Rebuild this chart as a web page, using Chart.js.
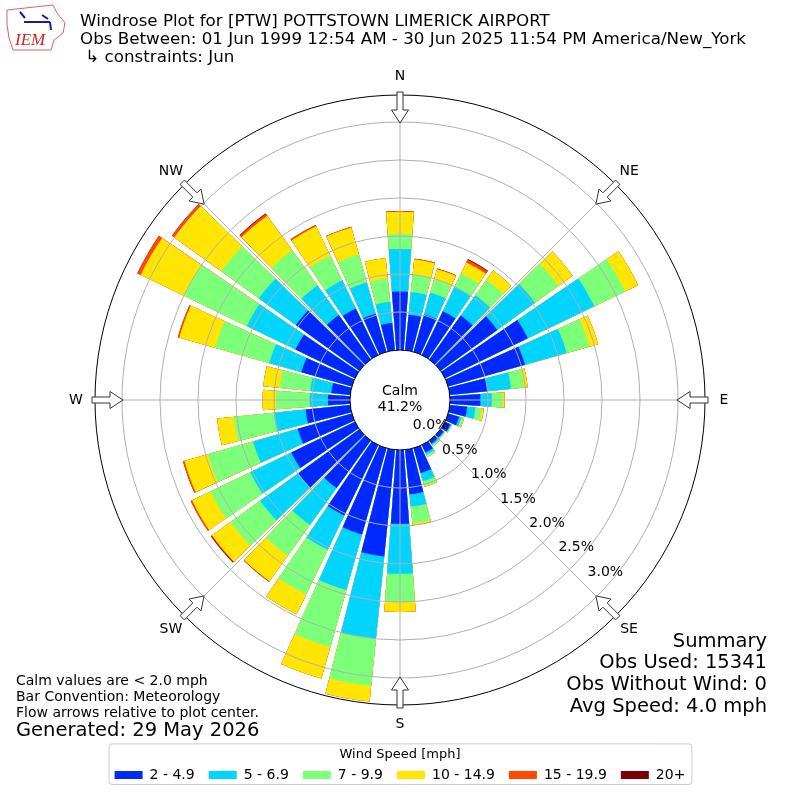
<!DOCTYPE html>
<html>
<head>
<meta charset="utf-8">
<script src="https://cdn.jsdelivr.net/npm/chart.js@4/dist/chart.umd.min.js"></script>
<style>
  html, body { margin: 0; padding: 0; background: #fff; }
</style>
</head>
<body>
<canvas id="rosa" width="800" height="800"></canvas>
<script>
// direcciones de donde sopla el viento (grados desde el norte)
const direcciones = [0, 10, 20, 30, 40, 50, 60, 70, 80, 90, 100, 110, 120, 130, 140, 150, 160, 170,
                     180, 190, 200, 210, 220, 230, 240, 250, 260, 270, 280, 290, 300, 310, 320, 330, 340, 350];

const rangosVelocidad = ['2 - 4.9', '5 - 6.9', '7 - 9.9', '10 - 14.9', '15 - 19.9', '20+'];
const coloresRango = ['#0028ff', '#00d4ff', '#7cff79', '#ffe500', '#ff4800', '#7f0000'];

// porcentaje de observaciones por direccion, un arreglo por rango
const pct2a5 = [0.77, 0.47, 0.51, 0.64, 0.71, 0.92, 1.21, 1.05, 0.50, 0.40, 0.23, 0.15, 0.08, 0.05, 0.05, 0.11, 0.34, 0.59,
                0.97, 1.41, 1.18, 1.03, 0.77, 0.99, 0.93, 0.74, 0.59, 0.29, 0.25, 0.69, 0.87, 1.03, 0.72, 0.68, 0.52, 0.36];
const pct5a7 = [0.56, 0.30, 0.30, 0.35, 0.33, 0.61, 0.97, 0.57, 0.31, 0.15, 0.11, 0.03, 0.01, 0.01, 0.02, 0.03, 0.11, 0.16,
                0.66, 1.09, 0.76, 0.50, 0.60, 0.62, 0.60, 0.61, 0.42, 0.24, 0.28, 0.44, 0.71, 0.60, 0.48, 0.41, 0.43, 0.28];
const pct7a10 = [0.20, 0.23, 0.18, 0.20, 0.25, 0.38, 0.45, 0.31, 0.17, 0.14, 0.08, 0.03, 0.01, 0.01, 0.02, 0.03, 0.07, 0.22,
                 0.37, 0.62, 0.78, 0.65, 0.50, 0.48, 0.58, 0.62, 0.53, 0.44, 0.40, 0.74, 0.92, 0.61, 0.57, 0.36, 0.38, 0.31];
const pct10a15 = [0.29, 0.20, 0.14, 0.16, 0.15, 0.23, 0.19, 0.12, 0.05, 0.03, 0.03, 0.01, 0, 0, 0, 0, 0.01, 0.03,
                  0.13, 0.21, 0.43, 0.29, 0.41, 0.30, 0.27, 0.32, 0.22, 0.18, 0.22, 0.49, 0.63, 0.76, 0.56, 0.43, 0.37, 0.27];
const pct15a20 = [0.01, 0.01, 0.01, 0.04, 0, 0, 0, 0, 0, 0, 0, 0, 0, 0, 0, 0, 0, 0,
                  0, 0, 0, 0, 0.01, 0.01, 0.02, 0.02, 0, 0, 0, 0.02, 0.05, 0.04, 0.03, 0.02, 0.01, 0];
const pct20mas = [0, 0, 0, 0.01, 0, 0, 0, 0, 0, 0, 0, 0, 0, 0, 0, 0, 0, 0,
                  0, 0, 0, 0, 0, 0.01, 0, 0, 0, 0, 0, 0, 0, 0, 0.01, 0, 0, 0];

const valoresEje = [0, 0.5, 1.0, 1.5, 2.0, 2.5, 3.0];
const ejeMin = -0.658;   // deja el hueco de calma en el centro
const ejeMax = 3.355;
const porcentajeCalma = 41.2;

const etiquetasRumbo = ['N', 'NE', 'E', 'SE', 'S', 'SW', 'W', 'NW'];

const ANCHO_BARRA = 0.85;

// las barras se apilan dibujando el acumulado, la capa menor encima
const porRango = [pct2a5, pct5a7, pct7a10, pct10a15, pct15a20, pct20mas];
const acumulados = [];
let suma = direcciones.map(() => 0);
porRango.forEach(serie => {
    suma = suma.map((v, k) => v + serie[k]);
    acumulados.push(suma.slice());
});

function puntoPolar(scale, grados, r) {
    const a = (grados - 90) * Math.PI / 180;
    return [scale.xCenter + r * Math.cos(a), scale.yCenter + r * Math.sin(a)];
}

const pluginRosa = {
    id: 'rosa',
    afterDatasetsUpdate(chart) {
        const scale = chart.scales.r;
        const r0 = scale.getDistanceFromCenterForValue(0);
        chart.data.datasets.forEach((ds, i) => {
            chart.getDatasetMeta(i).data.forEach(arc => {
                const medio = (arc.startAngle + arc.endAngle) / 2;
                const mitad = (arc.endAngle - arc.startAngle) / 2 * ANCHO_BARRA;
                arc.startAngle = medio - mitad;
                arc.endAngle = medio + mitad;
                arc.innerRadius = r0;
            });
        });
    },
    afterDraw(chart) {
        const ctx = chart.ctx;
        const scale = chart.scales.r;
        const r0 = scale.getDistanceFromCenterForValue(0);
        const rExt = scale.drawingArea;
        ctx.save();

        // lineas radiales cada 45 grados
        ctx.strokeStyle = '#b0b0b0';
        ctx.lineWidth = 1;
        for (let k = 0; k < 8; k++) {
            const [x1, y1] = puntoPolar(scale, k * 45, r0);
            const [x2, y2] = puntoPolar(scale, k * 45, rExt);
            ctx.beginPath();
            ctx.moveTo(x1, y1);
            ctx.lineTo(x2, y2);
            ctx.stroke();
        }

        // flechas de flujo huecas hacia el centro
        etiquetasRumbo.forEach((txt, k) => {
            const g = k * 45;
            const a = (g - 90) * Math.PI / 180;
            const ux = Math.cos(a), uy = Math.sin(a);
            const px = -uy, py = ux;
            const pts = [[rExt - 28, 0], [rExt - 15, 8.5], [rExt - 15, 3], [rExt + 3, 3],
                         [rExt + 3, -3], [rExt - 15, -3], [rExt - 15, -8.5]];
            ctx.beginPath();
            pts.forEach(([r, l], j) => {
                const x = scale.xCenter + r * ux + l * px;
                const y = scale.yCenter + r * uy + l * py;
                if (j === 0) ctx.moveTo(x, y); else ctx.lineTo(x, y);
            });
            ctx.closePath();
            ctx.fillStyle = '#fff';
            ctx.fill();
            ctx.strokeStyle = '#333';
            ctx.lineWidth = 1;
            ctx.stroke();

            const [tx, ty] = puntoPolar(scale, g, rExt + 19);
            ctx.fillStyle = '#000';
            ctx.font = '14px "DejaVu Sans"';
            ctx.textAlign = 'center';
            ctx.textBaseline = 'middle';
            ctx.fillText(txt, tx, ty);
        });

        // etiquetas del eje radial
        ctx.font = '14px "DejaVu Sans"';
        ctx.textAlign = 'center';
        ctx.textBaseline = 'middle';
        ctx.fillStyle = '#000';
        valoresEje.forEach(v => {
            const [x, y] = puntoPolar(scale, 130, scale.getDistanceFromCenterForValue(v) - 10);
            ctx.fillText(v.toFixed(1) + '%', x, y);
        });

        // calma
        ctx.fillText('Calm', scale.xCenter, scale.yCenter - 9);
        ctx.fillText(porcentajeCalma.toFixed(1) + '%', scale.xCenter, scale.yCenter + 7);

        // encabezado
        ctx.textAlign = 'left';
        ctx.textBaseline = 'alphabetic';
        ctx.font = '16.7px "DejaVu Sans"';
        ctx.fillText('Windrose Plot for [PTW] POTTSTOWN LIMERICK AIRPORT', 80, 26);
        ctx.fillText('Obs Between: 01 Jun 1999 12:54 AM - 30 Jun 2025 11:54 PM America/New_York', 80, 44);
        ctx.fillText(' \u21b3 constraints: Jun', 80, 62);

        // notas inferiores
        ctx.font = '14px "DejaVu Sans"';
        ctx.fillText('Calm values are < 2.0 mph', 16, 685);
        ctx.fillText('Bar Convention: Meteorology', 16, 701);
        ctx.fillText('Flow arrows relative to plot center.', 16, 717);
        ctx.font = '19.5px "DejaVu Sans"';
        ctx.fillText('Generated: 29 May 2026', 16, 736);

        // resumen
        ctx.textAlign = 'right';
        ctx.font = '19.5px "DejaVu Sans"';
        ctx.fillText('Summary', 767, 647);
        ctx.fillText('Obs Used: 15341', 767, 668);
        ctx.fillText('Obs Without Wind: 0', 767, 690);
        ctx.fillText('Avg Speed: 4.0 mph', 767, 712);

        // logo
        ctx.strokeStyle = '#e06060';
        ctx.lineWidth = 1;
        ctx.beginPath();
        [[7, 10], [53, 5], [57, 13], [65, 23], [63, 33], [54, 40], [51, 50], [13, 50], [9, 38], [7, 24]]
            .forEach(([x, y], j) => { if (j === 0) ctx.moveTo(x, y); else ctx.lineTo(x, y); });
        ctx.closePath();
        ctx.stroke();
        ctx.strokeStyle = '#1a1aa0';
        ctx.lineWidth = 2;
        ctx.beginPath();
        ctx.moveTo(24, 22); ctx.lineTo(50, 22);
        ctx.moveTo(20, 12); ctx.lineTo(25, 18);
        ctx.moveTo(42, 15); ctx.lineTo(48, 19);
        ctx.moveTo(50, 22); ctx.lineTo(51, 30);
        ctx.stroke();
        ctx.fillStyle = '#d42020';
        ctx.font = 'italic 17px "Liberation Serif"';
        ctx.textAlign = 'left';
        ctx.fillText('IEM', 15, 45);

        // marco de la leyenda
        const ley = chart.legend;
        if (ley && ley.legendHitBoxes.length) {
            const cajas = ley.legendHitBoxes;
            const izq = Math.min(...cajas.map(b => b.left)) - 6;
            const der = Math.max(...cajas.map(b => b.left + b.width)) + 6;
            const abajo = Math.max(...cajas.map(b => b.top + b.height)) + 2;
            const arriba = ley.top + 5;
            ctx.strokeStyle = '#cccccc';
            ctx.lineWidth = 1;
            ctx.beginPath();
            ctx.roundRect(izq + 0.5, arriba + 0.5, der - izq, abajo - arriba, 3);
            ctx.stroke();
        }
        ctx.restore();
    }
};

Chart.defaults.font.family = '"DejaVu Sans"';
Chart.defaults.color = '#000';

new Chart(document.getElementById('rosa'), {
    type: 'polarArea',
    data: {
        labels: direcciones.map(d => d + '\u00b0'),
        datasets: rangosVelocidad.map((rango, i) => ({
            label: rango,
            data: acumulados[i],
            backgroundColor: coloresRango[i],
            borderWidth: 0
        }))
    },
    options: {
        responsive: false,
        animation: false,
        events: [],
        layout: { padding: { left: 10, right: 10, top: 10, bottom: 8 } },
        scales: {
            r: {
                min: ejeMin,
                max: ejeMax,
                startAngle: -5,
                afterBuildTicks: s => { s.ticks = [...valoresEje, ejeMax].map(v => ({ value: v })); },
                afterUpdate: s => { s.xCenter = 400; s.yCenter = 400; s.drawingArea = 305; },
                ticks: { display: false, z: 1 },
                grid: {
                    circular: true,
                    z: 1,
                    lineWidth: 1,
                    color: c => (c.tick && (c.tick.value === 0 || c.tick.value === ejeMax)) ? '#000' : '#b0b0b0'
                },
                angleLines: { display: false },
                pointLabels: { display: false }
            }
        },
        plugins: {
            tooltip: { enabled: false },
            legend: {
                position: 'bottom',
                title: { display: true, text: 'Wind Speed [mph]', font: { size: 13 }, padding: { top: 10, bottom: -10 } },
                labels: {
                    boxWidth: 28,
                    boxHeight: 8,
                    padding: 14,
                    font: { size: 14 },
                    generateLabels: chart => chart.data.datasets.map((ds, i) => ({
                        text: ds.label,
                        fillStyle: ds.backgroundColor,
                        strokeStyle: ds.backgroundColor,
                        lineWidth: 0,
                        hidden: false,
                        datasetIndex: i
                    }))
                }
            }
        }
    },
    plugins: [pluginRosa]
});
</script>
</body>
</html>
